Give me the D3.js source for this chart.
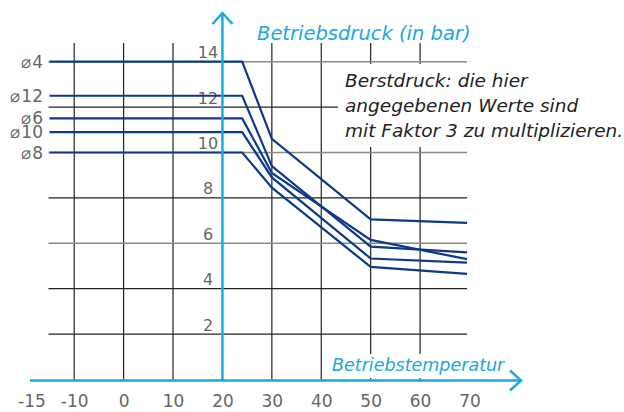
<!DOCTYPE html>
<meta charset="utf-8">
<head>
<style>
  body { margin: 0; background: #fff; }
  svg text { font-family: "DejaVu Sans", sans-serif; }
  .tick-lbl { fill: #666; font-size: 17px; }
  .axis-title { fill: #19a9e1; font-style: italic; }
  .note { fill: #222; font-style: italic; font-size: 18.5px; }
</style>
</head>
<body>
<div id="chart"></div>
<script src="https://cdn.jsdelivr.net/npm/d3@7"></script>
<script>
// temperature break points of the curves (deg C)
var temps = [-15, 24, 30, 50, 69.5];

// pressure (bar) for each pipe size at those temperatures
var sizes = ["4", "12", "6", "10", "8"];
var p4  = [14.0, 14.0, 10.6, 7.05, 6.9];
var p12 = [12.5, 12.5, 9.4, 5.85, 5.6];
var p6  = [11.5, 11.5, 9.1, 6.15, 5.3];
var p10 = [10.9, 10.9, 8.9, 5.33, 5.15];
var p8  = [10.0, 10.0, 8.45, 4.96, 4.65];
var values = [p4, p12, p6, p10, p8];

// axis ticks
var xTicks = [-15, -10, 0, 10, 20, 30, 40, 50, 60, 70];
var xGrid = [-10, 0, 10, 30, 40, 50, 60];
var yTicks = [2, 4, 6, 8, 10, 12, 14];
var yGray = [6, 10, 14];

var noteLines = ["Berstdruck: die hier", "angegebenen Werte sind", "mit Faktor 3 zu multiplizieren."];

var W = 624, H = 412;
var blue = "#19a9e1", navy = "#0c3a87";

var svg = d3.select("#chart").append("svg")
    .attr("width", W).attr("height", H);

var x = d3.scaleLinear().domain([-15, 70]).range([49.5, 469.5]);
var y = d3.scaleLinear().domain([0, 14]).range([379.5, 61.7]);

// grid
svg.append("g").selectAll("line").data(xGrid).enter().append("line")
    .attr("x1", function(d) { return x(d); }).attr("x2", function(d) { return x(d); })
    .attr("y1", 43).attr("y2", y(0))
    .attr("stroke", "#222").attr("stroke-width", 1.2);

svg.append("g").selectAll("line").data(yTicks).enter().append("line")
    .attr("x1", x(-15) - 1).attr("x2", x(69.5))
    .attr("y1", function(d) { return y(d); }).attr("y2", function(d) { return y(d); })
    .attr("stroke", function(d) { return yGray.indexOf(d) >= 0 ? "#8a8a8a" : "#222"; })
    .attr("stroke-width", function(d) { return yGray.indexOf(d) >= 0 ? 1.6 : 1.2; });

// white boxes behind note and x title
svg.append("rect").attr("x", 338).attr("y", 64).attr("width", W - 338).attr("height", 83).attr("fill", "#fff");
svg.append("rect").attr("x", 330).attr("y", 354).attr("width", 178).attr("height", 24).attr("fill", "#fff");

// y tick labels
var yAxis = svg.append("g")
    .attr("transform", "translate(208,0)")
    .call(d3.axisLeft(y).tickValues(yTicks).tickSize(0).tickFormat(String));
yAxis.select(".domain").remove();
yAxis.selectAll("text").attr("class", "tick-lbl")
    .attr("x", 0).attr("dy", "-0.25em").attr("text-anchor", "middle")
    .style("font-size", "16px").attr("fill", null);

// x tick labels
var xAxis = svg.append("g")
    .attr("transform", "translate(0,407)")
    .call(d3.axisBottom(x).tickValues(xTicks).tickSize(0).tickFormat(String));
xAxis.select(".domain").remove();
xAxis.selectAll("text").attr("class", "tick-lbl").attr("y", 0).attr("dy", 0).attr("fill", null)
    .attr("dx", function(d) { return d === -15 ? -18 : 0; });

// curves
var line = d3.line()
    .x(function(d) { return x(d[0]); })
    .y(function(d) { return y(d[1]); });

svg.append("g").selectAll("path").data(values).enter().append("path")
    .attr("d", function(v) { return line(temps.map(function(t, i) { return [t, v[i]]; })); })
    .attr("fill", "none").attr("stroke", navy).attr("stroke-width", 2.2)
    .attr("stroke-linejoin", "miter");

// size labels at left
var lbl = svg.append("g").selectAll("text").data(values).enter().append("text")
    .attr("x", 43).attr("y", function(v) { return y(v[0]) + 6; })
    .attr("text-anchor", "end").attr("fill", "#666");
lbl.append("tspan").style("font-size", "17px").text("\u2300");
lbl.append("tspan").attr("dx", 1).style("font-size", "17px").text(function(v, i) { return sizes[i]; });

// blue axes with arrows
var ax = x(20), ay = y(0) + 1;
svg.append("line").attr("x1", ax).attr("x2", ax).attr("y1", 13).attr("y2", ay)
    .attr("stroke", blue).attr("stroke-width", 2.5);
svg.append("path").attr("d", "M" + (ax - 10) + ",24L" + ax + ",13L" + (ax + 10) + ",24")
    .attr("fill", "none").attr("stroke", blue).attr("stroke-width", 2.5);
svg.append("line").attr("x1", 30).attr("x2", 521).attr("y1", ay).attr("y2", ay)
    .attr("stroke", blue).attr("stroke-width", 2.5);
svg.append("path").attr("d", "M510," + (ay - 10) + "L521," + ay + "L510," + (ay + 10))
    .attr("fill", "none").attr("stroke", blue).attr("stroke-width", 2.5);

// titles
svg.append("text").attr("class", "axis-title").attr("x", 257).attr("y", 40)
    .style("font-size", "19.5px").text("Betriebsdruck (in bar)");
svg.append("text").attr("class", "axis-title").attr("x", 332).attr("y", 371)
    .style("font-size", "17.5px").text("Betriebstemperatur");

// note
svg.append("g").selectAll("text").data(noteLines).enter().append("text")
    .attr("class", "note").attr("x", 345)
    .attr("y", function(d, i) { return 87 + i * 25; })
    .text(function(d) { return d; });
</script>
</body>
